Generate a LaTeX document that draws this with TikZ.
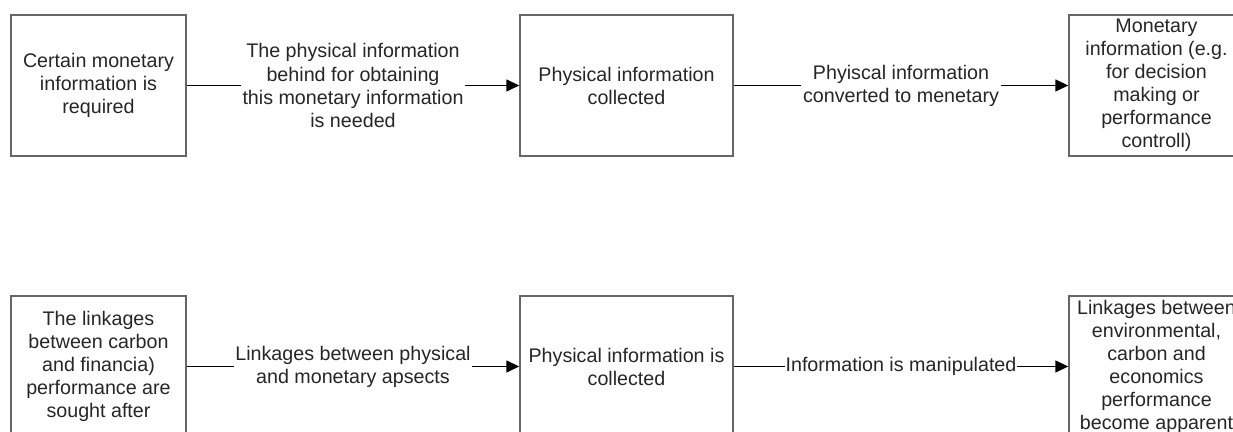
\documentclass[tikz,border=0pt]{standalone}
\usepackage{fontspec}
\setmainfont{Liberation Sans}
\usetikzlibrary{arrows.meta}
\tikzset{
  infobox/.style={draw=black!60,line width=0.8pt,minimum height=2.82cm,align=center,inner sep=0pt,
    font=\fontsize{11.2pt}{13.1pt}\selectfont,text=black!85},
  flow/.style={line width=0.8pt,-{Triangle[length=0.26cm,width=0.24cm]}},
  flowlabel/.style={midway,fill=white,inner sep=1pt,align=center,
    font=\fontsize{11.2pt}{13.1pt}\selectfont,text=black!85}
}
\begin{document}
\begin{tikzpicture}
\useasboundingbox (0,0) rectangle (24.66,8.64);
% upper chain
\node[infobox,minimum width=3.5cm] (money) at (1.97,6.93) {Certain monetary\\information is\\required};
\node[infobox,minimum width=4.26cm] (physA) at (12.53,6.93) {Physical information\\collected};
\node[infobox,minimum width=3.5cm] (result) at (23.13,6.93) {Monetary\\information (e.g.\\for decision\\making or\\performance\\controll)};
\draw[flow] (money) -- (physA) node[flowlabel] {The physical information\\behind for obtaining\\this monetary information\\is needed};
\draw[flow] (physA) -- (result) node[flowlabel] {Phyiscal information\\converted to menetary};
% lower chain
\node[infobox,minimum width=3.5cm] (link) at (1.97,1.31) {The linkages\\between carbon\\and financia)\\performance are\\sought after};
\node[infobox,minimum width=4.26cm] (physB) at (12.53,1.31) {Physical information is\\collected};
\node[infobox,minimum width=3.5cm] (apparent) at (23.13,1.31) {Linkages between\\environmental,\\carbon and\\economics\\performance\\become apparent};
\draw[flow] (link) -- (physB) node[flowlabel] {Linkages between physical\\and monetary apsects};
\draw[flow] (physB) -- (apparent) node[flowlabel,inner sep=0.5pt] {Information is manipulated};
\end{tikzpicture}
\end{document}
